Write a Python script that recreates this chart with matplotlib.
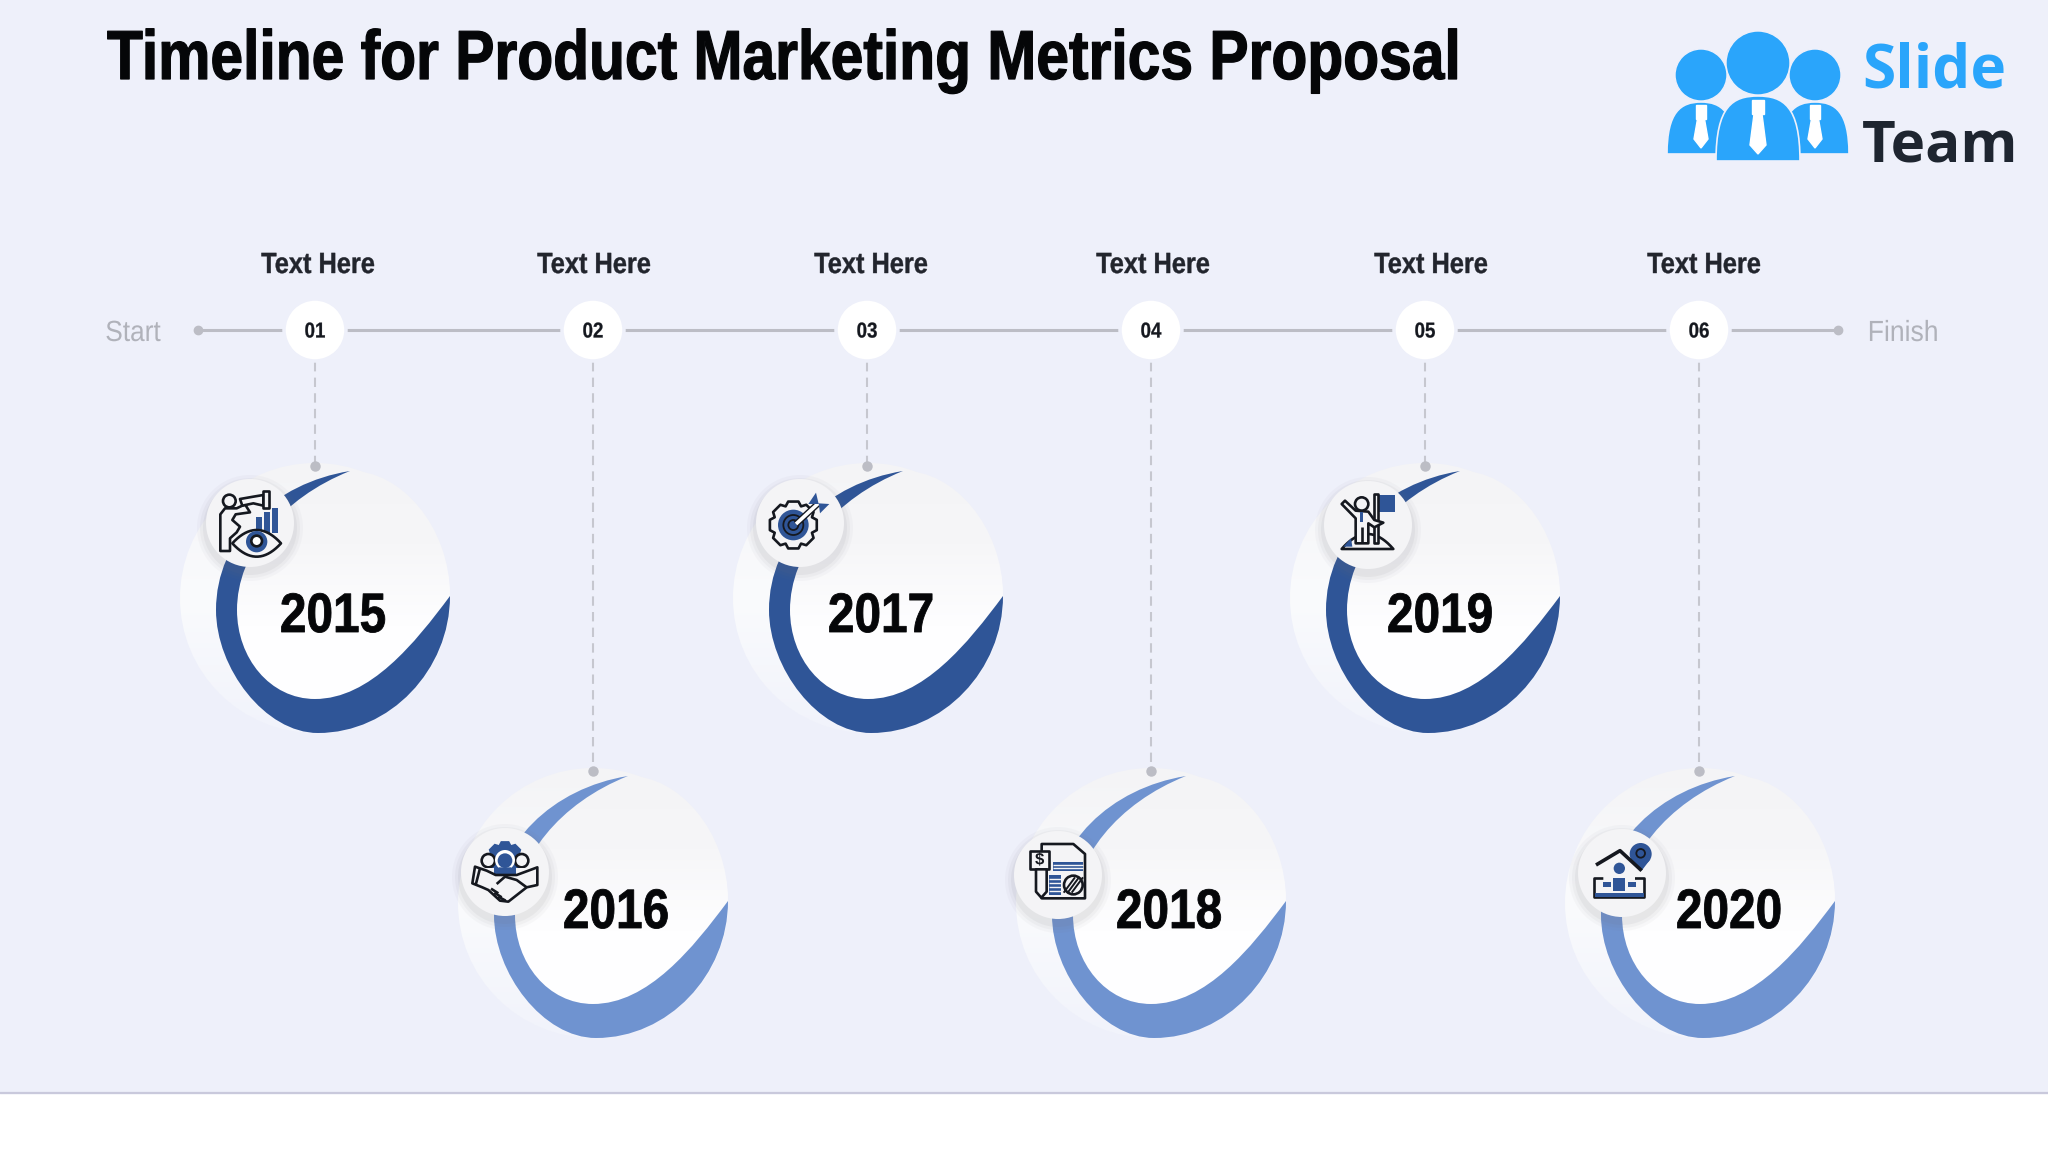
# Timeline slide, drawn in pixel coordinates on one full-figure axes
import numpy as np
import matplotlib
matplotlib.use("Agg")
import matplotlib.pyplot as plt
from matplotlib.patches import Circle, PathPatch, Polygon, Rectangle
from matplotlib.patheffects import AbstractPathEffect
from matplotlib.path import Path
from matplotlib.transforms import Affine2D

# Chart content
title = "Timeline for Product Marketing Metrics Proposal"
years = ["2015", "2016", "2017", "2018", "2019", "2020"]
steps = ["01", "02", "03", "04", "05", "06"]
heads = ["Text Here"] * 6

# Layout of the six steps
step_x = [315, 593, 867, 1151, 1425, 1699]
head_x = [318, 594, 871, 1153, 1431, 1704]
blob_x = [315, 593, 868, 1151, 1425, 1700]
blob_y = [598, 903, 598, 903, 598, 903]
year_x = [333, 616, 881, 1169, 1440, 1729]
year_y = [618, 914, 618, 914, 618, 914]
icon_x = [250, 505, 800, 1058, 1368, 1622]
icon_y = [523, 872, 523, 875, 525, 873]

BG = "#eef0fa"
DARK = "#2f5597"
LIGHT = "#6f93d0"
INK = "#15181f"
GREY = "#bcbdc5"
PAD = "#f4f4f6"

fig = plt.figure(figsize=(20.48, 11.52), dpi=100, facecolor="white")
ax = fig.add_axes([0, 0, 1, 1])
ax.axis("off")


# No narrow face is installed, so the text is squeezed sideways when it is drawn
class Squeeze(AbstractPathEffect):
    def __init__(self, sx, x0, stroke=0):
        super().__init__()
        self.sx = sx
        self.x0 = x0
        self.stroke = stroke

    def draw_path(self, renderer, gc, tpath, affine, rgbFace=None):
        squeeze = Affine2D().translate(-self.x0, 0).scale(self.sx, 1).translate(self.x0, 0)
        gc0 = renderer.new_gc()
        gc0.copy_properties(gc)
        gc0.set_foreground(rgbFace)
        gc0.set_linewidth(self.stroke)
        renderer.draw_path(gc0, tpath, affine + squeeze, rgbFace)
        gc0.restore()


def label(x, y, s, size, sx, color, weight="bold", ha="center", z=6, stroke=0):
    ax.text(x, y, s, fontsize=size, fontweight=weight, color=color, ha=ha, va="center",
            family=["Liberation Sans", "DejaVu Sans"], zorder=z,
            path_effects=[Squeeze(sx, x, stroke)])


# Background and bottom band
ax.add_patch(Rectangle((0, 0), 2048, 1093, color=BG, zorder=0))
ax.plot([0, 2048], [1093, 1093], color="#c9c9dc", lw=1.6, zorder=1)

# Timeline
ax.plot([198, 1838], [330, 330], color=GREY, lw=2.2, zorder=2)
ax.plot([198, 1838], [330, 330], "o", color=GREY, ms=6, zorder=2)

# crescent outline, offsets from the circle centre
OUTER = [(35, -127), (-40, -115), (-99, -60), (-99, 12),
         (-99, 70), (-50, 135), (3, 135),
         (75, 135), (135, 72), (135, -2)]
INNER = [(100, 45), (55, 101), (0, 101),
         (-45, 101), (-78, 60), (-78, 12),
         (-78, -45), (-33, -100), (35, -127)]


def crescent(cx, cy, color):
    verts = OUTER + INNER + [(35, -127)]
    codes = [Path.MOVETO] + [Path.CURVE4] * 18 + [Path.CLOSEPOLY]
    verts = [(cx + x, cy + y) for x, y in verts]
    ax.add_patch(PathPatch(Path(verts, codes), fc=color, ec="none", zorder=5))


def inside(cx, cy):
    # area held by the crescent: inner edge plus the top right of the circle
    verts = [(135, -2)] + INNER + [(85, -128), (135, -72), (135, -2), (135, -2)]
    codes = [Path.MOVETO] + [Path.CURVE4] * 12 + [Path.CLOSEPOLY]
    verts = [(cx + x, cy + y) for x, y in verts]
    return PathPatch(Path(verts, codes), fc="none", ec="none", zorder=4)


def poly(ox, oy, pts, fc="none", ec=INK, lw=1.9, closed=True, z=9):
    # points are given in 3x zoom units from the icon origin
    p = [(ox + x / 3, oy + y / 3) for x, y in pts]
    ax.add_patch(Polygon(p, closed=closed, fc=fc, ec=ec, lw=lw, zorder=z, joinstyle="round"))


def circ(ox, oy, x, y, r, fc="none", ec=INK, lw=1.9, z=9):
    ax.add_patch(Circle((ox + x / 3, oy + y / 3), r / 3, fc=fc, ec=ec, lw=lw, zorder=z))


def gear(ox, oy, x, y, r, n, fc, ec, lw=1.9, z=9):
    pts = []
    for i in range(n):
        a = 2 * np.pi * i / n
        w = np.pi / n
        for da, rr in [(-w, r * 0.84), (-w * 0.55, r), (w * 0.55, r), (w, r * 0.84)]:
            pts.append((x + rr * np.cos(a + da), y + rr * np.sin(a + da)))
    poly(ox, oy, pts, fc=fc, ec=ec, lw=lw, z=z)


# The six icons
def icon_spyglass(ox, oy):
    circ(ox, oy, 103, 78, 19)
    poly(ox, oy, [(90, 228), (76, 228), (76, 118), (90, 100), (125, 100), (150, 88), (165, 112),
                  (122, 118), (112, 135), (135, 155), (125, 172), (105, 190), (105, 228)], fc=PAD)
    poly(ox, oy, [(135, 72), (175, 65), (205, 60), (205, 92), (175, 85), (142, 92)], fc=PAD)
    poly(ox, oy, [(205, 48), (223, 48), (223, 100), (205, 100)], fc=PAD)
    for x, top in [(182, 125), (208, 112), (232, 100)]:
        poly(ox, oy, [(x, top), (x + 18, top), (x + 18, 175), (x, 175)], fc=DARK, ec="none")
    t = np.linspace(0, 1, 20)
    up = [(112 + 146 * a, 205 - 80 * a * (1 - a) * 2) for a in t]
    low = [(258 - 146 * a, 205 + 80 * a * (1 - a) * 2) for a in t]
    poly(ox, oy, up + low, fc=PAD, z=10)
    circ(ox, oy, 185, 200, 32, fc=DARK, ec="none", z=11)
    circ(ox, oy, 185, 198, 16, fc="white", z=12)


def icon_handshake(ox, oy):
    gear(ox, oy, 150, 90, 58, 8, DARK, "none")
    poly(ox, oy, [(105, 135), (195, 135), (195, 95), (105, 95)], fc=DARK, ec="none")
    circ(ox, oy, 100, 92, 20, fc=PAD)
    circ(ox, oy, 200, 92, 20, fc=PAD)
    poly(ox, oy, [(82, 115), (118, 115), (118, 135), (82, 135)], fc=PAD, ec="none")
    poly(ox, oy, [(182, 115), (218, 115), (218, 135), (182, 135)], fc=PAD, ec="none")
    circ(ox, oy, 150, 90, 30, fc="white", ec="none", z=10)
    circ(ox, oy, 150, 92, 22, fc=DARK, ec="none", z=11)
    poly(ox, oy, [(120, 135), (180, 135), (168, 112), (132, 112)], fc=DARK, ec="none", z=11)
    poly(ox, oy, [(60, 110), (95, 122), (122, 135), (185, 135), (247, 112), (247, 165), (215, 172),
                  (160, 215), (135, 212), (100, 180), (82, 172), (52, 160)], fc=PAD, z=12)
    poly(ox, oy, [(125, 162), (150, 140), (185, 150), (215, 172)], closed=False, z=13)
    poly(ox, oy, [(75, 115), (62, 165)], closed=False, z=13)
    for a, b in [((108, 176), (130, 190)), ((118, 188), (140, 202)), ((130, 200), (152, 212))]:
        poly(ox, oy, [a, b], closed=False, z=13)


def icon_target(ox, oy):
    gear(ox, oy, 130, 135, 72, 8, PAD, INK)
    circ(ox, oy, 130, 135, 46, fc=DARK, ec="none", z=10)
    circ(ox, oy, 130, 135, 30, ec=INK, lw=1.3, z=11)
    circ(ox, oy, 130, 135, 15, ec=INK, lw=1.3, z=11)
    poly(ox, oy, [(138, 132), (205, 70)], ec=INK, lw=4.6, closed=False, z=12)
    poly(ox, oy, [(138, 132), (205, 70)], ec="white", lw=2.6, closed=False, z=12)
    poly(ox, oy, [(175, 72), (198, 38), (206, 72)], fc=DARK, ec="none", z=13)
    poly(ox, oy, [(206, 70), (238, 72), (210, 100)], fc=DARK, ec="none", z=13)


def icon_summit(ox, oy):
    t = np.linspace(0, 1, 20)
    hill = [(80 + 155 * a, 207 - 45 * 4 * a * (1 - a)) for a in t]
    poly(ox, oy, hill, fc=PAD)
    poly(ox, oy, [(85, 200), (108, 175), (112, 200)], fc=DARK, ec="none")
    poly(ox, oy, [(190, 45), (240, 45), (240, 95), (190, 95)], fc=DARK, ec="none")
    poly(ox, oy, [(178, 42), (190, 42), (190, 188), (178, 188)], fc=PAD)
    circ(ox, oy, 140, 72, 20, fc=PAD)
    poly(ox, oy, [(80, 72), (90, 62), (122, 92), (160, 95), (178, 120), (205, 128), (178, 142),
                  (160, 130), (160, 190), (122, 190), (122, 115)], fc=PAD)
    poly(ox, oy, [(135, 95), (145, 95), (145, 125), (135, 125)], fc=DARK, ec="none")
    poly(ox, oy, [(141, 140), (141, 190)], closed=False)


def icon_report(ox, oy):
    poly(ox, oy, [(110, 42), (205, 42), (240, 72), (240, 205), (110, 205)], fc=PAD)
    poly(ox, oy, [(145, 97), (235, 97), (235, 122), (145, 122)], fc=DARK, ec="none")
    poly(ox, oy, [(132, 135), (168, 135), (168, 195), (132, 195)], fc=DARK, ec="none")
    for y in [105, 114]:
        poly(ox, oy, [(145, y), (235, y)], ec=PAD, lw=1, closed=False)
    for y in [148, 160, 172, 184]:
        poly(ox, oy, [(132, y), (168, y)], ec=PAD, lw=1, closed=False)
    circ(ox, oy, 205, 165, 28)
    for d in [-12, 0, 12]:
        poly(ox, oy, [(188 + d, 188), (222 + d, 142)], lw=1.4, closed=False)
    poly(ox, oy, [(75, 62), (133, 62), (133, 118), (75, 118)], fc=PAD, z=10)
    poly(ox, oy, [(93, 118), (125, 118), (125, 185), (109, 203), (93, 185)], fc=PAD, z=10)
    label(ox + 104 / 3, oy + 90 / 3, "$", 12, 1, INK, z=11)


def icon_house(ox, oy):
    circ(ox, oy, 212, 72, 33, fc=DARK, ec="none")
    poly(ox, oy, [(183, 88), (241, 88), (215, 122)], fc=DARK, ec="none")
    circ(ox, oy, 212, 70, 13, ec=INK, lw=1.3)
    poly(ox, oy, [(72, 145), (222, 145), (222, 202), (72, 202)], fc=PAD, z=9)
    poly(ox, oy, [(75, 188), (222, 188), (222, 202), (75, 202)], fc=DARK, ec="none", z=10)
    poly(ox, oy, [(100, 118), (148, 78), (195, 118), (195, 175), (100, 175)], fc=PAD, ec="none", z=10)
    poly(ox, oy, [(78, 105), (150, 62), (215, 122)], lw=2.6, closed=False, z=11)
    circ(ox, oy, 148, 115, 17, fc=DARK, ec="none", z=11)
    poly(ox, oy, [(128, 145), (165, 145), (165, 182), (128, 182)], fc=DARK, ec="none", z=11)
    poly(ox, oy, [(100, 155), (122, 155), (122, 170), (100, 170)], fc=DARK, ec="none", z=11)
    poly(ox, oy, [(175, 155), (197, 155), (197, 170), (175, 170)], fc=DARK, ec="none", z=11)


icons = [(icon_spyglass, 195, 475), (icon_handshake, 455, 830), (icon_target, 750, 480),
         (icon_report, 1005, 830), (icon_summit, 1315, 480), (icon_house, 1570, 830)]


def ramp(stops):
    # vertical colour ramp for imshow, stops are (position, r, g, b)
    pos = np.linspace(0, 1, 120)
    out = np.zeros((120, 1, 3))
    xs = [s[0] for s in stops]
    for c in range(3):
        out[:, 0, c] = np.interp(pos, xs, [s[c + 1] / 255 for s in stops])
    return out


# Faint fill on the whole circle, whiter fill inside the crescent
back_fill = ramp([(0, 244, 244, 246), (0.5, 250, 251, 253), (1, 241, 243, 251)])
front_fill = ramp([(0, 244, 244, 246), (0.3, 246, 246, 248), (0.6, 254, 254, 255), (1, 255, 255, 255)])

for i in range(6):
    color = DARK if i % 2 == 0 else LIGHT
    bx, by = blob_x[i], blob_y[i]

    # dashed drop line with its end dot
    end = by - 132
    ax.plot([step_x[i], step_x[i]], [362, end], color="#c6c7cf", lw=1.5,
            dashes=(4.5, 3), zorder=2)
    ax.plot(step_x[i], end, "o", color=GREY, ms=6.5, zorder=6)

    # numbered node
    ax.add_patch(Circle((step_x[i], 330), 31, fc="white", ec=BG, lw=2.5, zorder=3))
    label(step_x[i], 332, steps[i], 15.5, 0.87, INK, stroke=0.2)
    label(head_x[i], 265, heads[i], 21, 0.87, "#22252d", stroke=0.3)

    # big circle, crescent, year
    disc = Circle((bx, by), 135, fc="none", ec="none", zorder=4)
    ax.add_patch(disc)
    im = ax.imshow(back_fill, extent=[bx - 135, bx + 135, by + 135, by - 135], aspect="auto", zorder=4)
    im.set_clip_path(disc)
    area = inside(bx, by)
    ax.add_patch(area)
    im = ax.imshow(front_fill, extent=[bx - 135, bx + 135, by + 135, by - 135], aspect="auto", zorder=4.5)
    im.set_clip_path(area)
    crescent(bx, by, color)
    label(year_x[i], year_y[i], years[i], 40, 0.86, "#050608", stroke=0.6)

    # icon badge with a small shadow
    ix, iy = icon_x[i], icon_y[i]
    for grow, a in [(9, 0.04), (6, 0.05), (3, 0.07)]:
        ax.add_patch(Circle((ix, iy + 5), 44 + grow, fc="#70707c", ec="none", alpha=a, zorder=7))
    ax.add_patch(Circle((ix, iy), 44, fc=PAD, ec="none", zorder=8))
    fn, ox, oy = icons[i]
    fn(ox, oy)

# Start / Finish
label(133, 333, "Start", 21, 0.9, "#b0b2ba", weight="normal")
label(1903, 333, "Finish", 21, 0.91, "#b0b2ba", weight="normal")

# Title
label(107, 61, title, 50, 0.846, "#050608", ha="left", stroke=0.9)

# Logo
LOGO = "#2aa5fb"


def person(cx, head_y, head_r, left, right, top, bottom, tie_w, tie_top, tie_bot):
    w = (right - left) / 2
    mid = (left + right) / 2
    verts = [(left, bottom), (left, top + 10), (mid - w * 0.6, top), (mid, top),
             (mid + w * 0.6, top), (right, top + 10), (right, bottom), (left, bottom)]
    codes = [Path.MOVETO, Path.CURVE4, Path.CURVE4, Path.CURVE4,
             Path.CURVE4, Path.CURVE4, Path.CURVE4, Path.CLOSEPOLY]
    ax.add_patch(PathPatch(Path(verts, codes), fc=LOGO, ec=BG, lw=1.2, zorder=3, joinstyle="round"))
    ax.add_patch(Circle((cx, head_y), head_r, fc=LOGO, ec=BG, lw=1, zorder=4))
    ax.add_patch(Rectangle((cx - tie_w * 0.7, tie_top), tie_w * 1.4, 14, color="white", zorder=5))
    ax.add_patch(Polygon([(cx - tie_w * 0.5, tie_top + 14), (cx + tie_w * 0.5, tie_top + 14),
                          (cx + tie_w, tie_bot - 9), (cx, tie_bot), (cx - tie_w, tie_bot - 9)],
                         color="white", zorder=5))


person(1701, 75, 26, 1667, 1735, 102, 154, 7, 105, 148)
person(1815, 75, 26, 1781, 1849, 102, 154, 7, 105, 148)
person(1758, 63, 32, 1716, 1800, 96, 161, 8, 100, 154)
ax.text(1862, 88, "Slide", fontsize=43.5, fontweight="bold", color=LOGO, ha="left",
        va="baseline", family=["Open Sans", "DejaVu Sans"])
ax.text(1862, 161, "Team", fontsize=42, fontweight="bold", color="#1e2530", ha="left",
        va="baseline", family=["Open Sans", "DejaVu Sans"])

ax.set_xlim(0, 2048)
ax.set_ylim(1152, 0)
fig.savefig("out.png", dpi=100, facecolor="white")
